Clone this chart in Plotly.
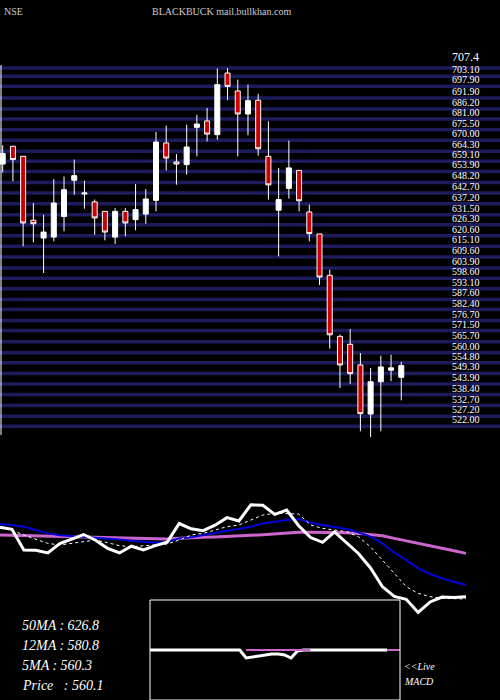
import plotly.graph_objects as go

opens  = [657.7,666.9,661.7,628.6,619.4,619.9,630.6,649.3,642.2,638.1,633.2,619.9,633.2,628.9,631.8,638.9,668.6,658.8,657.4,676.7,
          680.0,672.9,704.8,695.5,683.6,690.7,661.7,633.8,645.1,654.4,632.9,621.5,600.1,568.5,564.4,553.7,528.3,545.0,551.0,547.3]
closes = [663.1,660.0,627.2,626.8,622.5,637.5,644.4,651.7,642.7,629.8,622.5,633.2,627.2,634.1,639.6,669.1,660.8,657.7,666.5,678.4,
          673.2,698.8,697.9,683.6,690.5,665.6,646.9,639.3,655.7,638.7,621.7,599.2,569.3,553.7,549.2,528.5,545.0,552.7,552.2,553.4]
highs  = [667.4,666.9,661.7,637.5,631.5,649.9,651.3,660.0,649.1,639.3,633.2,634.9,634.9,647.4,644.8,674.3,677.6,662.9,678.1,683.2,
          686.7,707.1,707.4,701.4,698.8,694.1,679.8,655.7,669.8,654.4,636.7,621.5,603.0,569.4,572.3,559.9,552.2,558.5,559.0,555.3]
lows   = [653.4,648.8,615.1,617.2,601.3,617.7,622.9,641.8,634.6,621.1,618.2,616.3,620.3,623.4,626.8,633.2,654.4,647.0,652.2,661.7,
          669.4,670.3,690.7,661.7,672.6,662.0,639.3,609.9,639.8,633.2,617.7,595.1,562.2,541.8,543.9,519.4,516.4,519.4,545.3,535.4]

ma12 = [667.8,666.7,664.1,658.8,653.5,650.4,649.3,648.3,647.2,645.6,644.0,641.9,640.3,638.8,640.3,645.6,647.2,650.9,654.6,657.8,
        660.4,664.1,669.3,672.0,674.6,676.2,670.4,666.7,663.0,660.4,655.1,648.3,637.7,622.9,611.4,598.2,589.2,582.3,577.1,571.8]
ma50 = [650.9,650.4,649.8,649.3,648.8,648.3,647.7,647.2,646.7,646.1,645.6,645.1,644.6,644.0,644.6,645.6,646.7,647.2,647.7,648.3,
        649.3,650.4,651.4,653.0,654.6,655.1,655.1,655.1,655.1,654.6,653.5,651.9,649.8,645.6,641.9,637.7,633.5,629.8,626.1,621.9]
ma5  = [661.4,658.8,650.9,644.0,637.7,635.1,637.7,641.4,643.0,638.8,634.0,632.4,633.5,635.1,636.7,643.0,650.9,653.5,658.8,664.1,
        666.7,674.6,682.5,685.2,685.2,684.1,666.7,661.4,658.8,656.2,648.3,632.4,611.4,590.3,569.2,558.6,553.4,550.7,549.7,549.7]

levels = [707.4,703.1,697.9,691.9,686.2,681.0,675.5,670.0,664.3,659.1,653.9,648.2,642.7,637.2,631.5,626.3,620.6,615.1,
          609.6,603.9,598.6,593.1,587.6,582.4,576.7,571.5,565.7,560.0,554.8,549.3,543.9,538.4,532.7,527.2,522.0]

macd   = [0]*15 + [-0.16,-0.14,-0.12,-0.1,-0.08,-0.08,-0.1,-0.16,-0.02,0] + [0]*13 + [None, None]
signal = [None]*15 + [0]*11 + [None]*11 + [0, 0, 0]

stats = ["50MA : 626.8", "12MA : 580.8", "5MA : 560.3", "Price   : 560.1"]

idx = list(range(len(closes)))
serif = "Liberation Serif"
fig = go.Figure()

for lv in levels:
    fig.add_shape(type="line", xref="paper", x0=0, x1=1, yref="y", y0=lv, y1=lv,
                  line=dict(color="#1c1c5c", width=3.5), layer="below")
for k, lv in enumerate(levels):
    if k == 0:
        fig.add_annotation(xref="paper", x=0.9, xanchor="left", yref="y", y=lv, yanchor="bottom", yshift=2,
                           text="707.4", showarrow=False, font=dict(family=serif, size=12, color="white"))
    else:
        fig.add_annotation(xref="paper", x=0.9, xanchor="left", yref="y", y=lv, yanchor="bottom", yshift=-1,
                           text=f"{lv:.2f}", showarrow=False, font=dict(family=serif, size=10, color="white"))

fig.add_trace(go.Candlestick(x=idx, open=opens, high=highs, low=lows, close=closes,
                             increasing=dict(fillcolor="white", line=dict(color="white", width=1)),
                             decreasing=dict(fillcolor="#cc0000", line=dict(color="white", width=1)),
                             whiskerwidth=0, xaxis="x", yaxis="y", showlegend=False))

fig.add_trace(go.Scatter(x=idx, y=ma50, mode="lines", line=dict(color="#cc66cc", width=3), xaxis="x2", yaxis="y2"))
fig.add_trace(go.Scatter(x=idx, y=ma12, mode="lines", line=dict(color="#0000dd", width=2), xaxis="x2", yaxis="y2"))
fig.add_trace(go.Scatter(x=idx, y=ma5, mode="lines", line=dict(color="white", width=1, dash="dot"), xaxis="x2", yaxis="y2"))
fig.add_trace(go.Scatter(x=idx, y=closes, mode="lines", line=dict(color="white", width=3), xaxis="x2", yaxis="y2"))

fig.add_trace(go.Scatter(x=idx, y=macd, mode="lines", line=dict(color="white", width=3), xaxis="x3", yaxis="y3"))
fig.add_trace(go.Scatter(x=idx, y=signal, mode="lines", line=dict(color="#cc66cc", width=2), xaxis="x3", yaxis="y3"))

fig.add_shape(type="rect", xref="paper", yref="paper", x0=0.3, x1=0.8, y0=0, y1=100/700,
              line=dict(color="white", width=1))
fig.add_shape(type="line", xref="paper", yref="paper", x0=0.002, x1=0.002, y0=1-435/700, y1=1-65/700,
              line=dict(color="white", width=1))

for k, s in enumerate(stats):
    fig.add_annotation(xref="paper", yref="paper", x=20/500, y=1-(625+20*k)/700, xanchor="left", yanchor="middle",
                       text=f"<i>{s}</i>", showarrow=False, font=dict(family=serif, size=14, color="white"))
fig.add_annotation(xref="paper", yref="paper", x=402/500, y=1-666/700, xanchor="left", yanchor="middle",
                   text="<i>&lt;&lt;Live</i>", showarrow=False, font=dict(family=serif, size=10, color="white"))
fig.add_annotation(xref="paper", yref="paper", x=402/500, y=1-681/700, xanchor="left", yanchor="middle",
                   text="<i>MACD</i>", showarrow=False, font=dict(family=serif, size=10, color="white"))
fig.add_annotation(xref="paper", yref="paper", x=2/500, y=1-12/700, xanchor="left", yanchor="middle",
                   text="NSE", showarrow=False, font=dict(family=serif, size=10, color="#cccccc"))
fig.add_annotation(xref="paper", yref="paper", x=150/500, y=1-12/700, xanchor="left", yanchor="middle",
                   text="BLACKBUCK mail.bullkhan.com", showarrow=False, font=dict(family=serif, size=10, color="#cccccc"))

ax = dict(visible=False, showgrid=False, zeroline=False, fixedrange=True)
fig.update_layout(
    width=500, height=700, margin=dict(l=0, r=0, t=0, b=0),
    paper_bgcolor="black", plot_bgcolor="black", showlegend=False,
    xaxis=dict(ax, domain=[0, 1], range=[-0.264, 48.66], rangeslider=dict(visible=False)),
    yaxis=dict(ax, domain=[0, 1], range=[380.3, 742.6]),
    xaxis2=dict(ax, domain=[0, 1], range=[0, 41.85], anchor="y2", overlaying="x"),
    yaxis2=dict(ax, domain=[0, 1], range=[389.9, 1497.3], anchor="x2", overlaying="y"),
    xaxis3=dict(ax, domain=[0.3, 0.8], range=[0, 39], anchor="y3"),
    yaxis3=dict(ax, domain=[0, 100/700], range=[-1, 1], anchor="x3"),
)
fig.write_html("out.html", config={"displayModeBar": False},
               post_script="document.body.style.margin='0';document.body.style.overflow='hidden';document.body.style.background='black';")
